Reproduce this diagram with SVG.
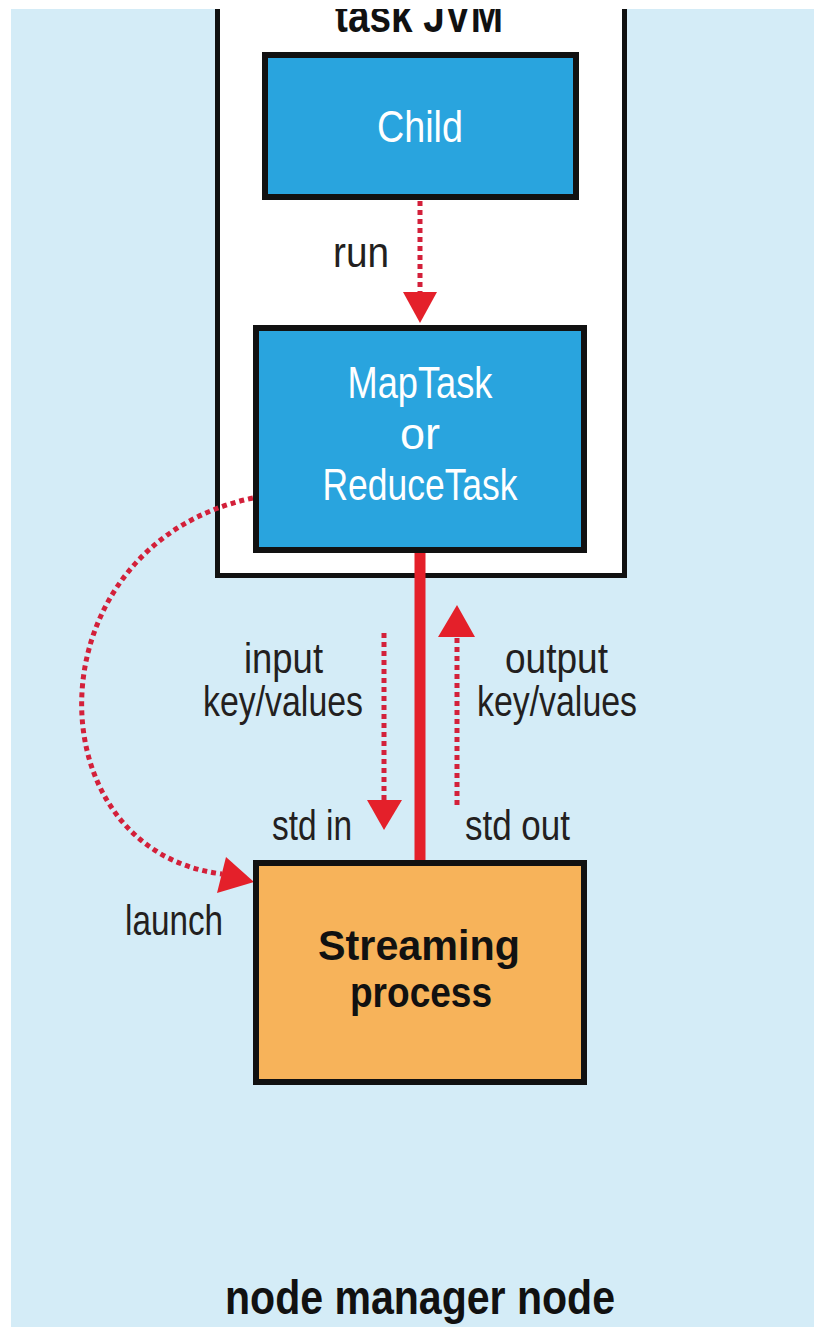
<svg xmlns="http://www.w3.org/2000/svg" width="814" height="1327" viewBox="0 0 814 1327">
<style>
.lbl{font-family:"Liberation Sans",Arial,sans-serif;font-size:42px;fill:#231f20}
.boxtxt{font-family:"Liberation Sans",Arial,sans-serif;font-size:44px;fill:#ffffff;text-anchor:middle}
.bold{font-family:"Liberation Sans",Arial,sans-serif;font-weight:bold;fill:#111111}
.blue{fill:#29a4de;stroke:#111111;stroke-width:6}
.orange{fill:#f7b35a;stroke:#111111;stroke-width:6}
.dot{fill:none;stroke:#d3203a;stroke-width:5;stroke-dasharray:5 4}
.head{fill:#e4202a}
</style>
<rect x="0" y="0" width="814" height="1327" fill="#ffffff"/>
<rect x="11" y="9" width="803" height="1318" fill="#d4ecf7"/>

<g id="taskJVM">
  <rect x="217.5" y="-10" width="407" height="585.5" fill="#ffffff" stroke="#111111" stroke-width="5"/>
  <text class="bold" x="335" y="32" font-size="46" textLength="168" lengthAdjust="spacingAndGlyphs">task JVM</text>
</g>

<g id="nodeManager">
  <text class="bold" x="225" y="1314" font-size="48" textLength="390" lengthAdjust="spacingAndGlyphs">node manager node</text>
</g>

<g id="connectors">
  <line x1="420" y1="553" x2="420" y2="860" stroke="#e4202a" stroke-width="11"/>
  <line class="dot" x1="420" y1="201" x2="420" y2="293"/>
  <polygon class="head" points="403,292 437,292 420,323"/>
  <line class="dot" x1="384" y1="633" x2="384" y2="800"/>
  <polygon class="head" points="367,800 402,800 384,830"/>
  <line class="dot" x1="457" y1="805" x2="457" y2="637"/>
  <polygon class="head" points="438,637 475,637 457,605"/>
  <path class="dot" d="M 253 498 C 30 545, 30 850, 222 874"/>
  <polygon class="head" points="254,882 226,857 217,893"/>
  <text class="lbl" x="333" y="267" textLength="56" lengthAdjust="spacingAndGlyphs">run</text>
  <text class="lbl" x="244" y="673" textLength="79" lengthAdjust="spacingAndGlyphs">input</text>
  <text class="lbl" x="203" y="716" textLength="160" lengthAdjust="spacingAndGlyphs">key/values</text>
  <text class="lbl" x="505" y="673" textLength="103" lengthAdjust="spacingAndGlyphs">output</text>
  <text class="lbl" x="477" y="716" textLength="160" lengthAdjust="spacingAndGlyphs">key/values</text>
  <text class="lbl" x="272" y="840" textLength="80" lengthAdjust="spacingAndGlyphs">std in</text>
  <text class="lbl" x="465" y="840" textLength="105" lengthAdjust="spacingAndGlyphs">std out</text>
  <text class="lbl" x="125" y="935" textLength="98" lengthAdjust="spacingAndGlyphs">launch</text>
</g>

<g id="child">
  <rect class="blue" x="265" y="55" width="311" height="142"/>
  <text class="boxtxt" x="420" y="142" textLength="86" lengthAdjust="spacingAndGlyphs">Child</text>
</g>

<g id="mapTask">
  <rect class="blue" x="256" y="328" width="328" height="222"/>
  <text class="boxtxt" x="420" y="398" textLength="145" lengthAdjust="spacingAndGlyphs">MapTask</text>
  <text class="boxtxt" x="420" y="449" textLength="40" lengthAdjust="spacingAndGlyphs">or</text>
  <text class="boxtxt" x="420" y="500" textLength="195" lengthAdjust="spacingAndGlyphs">ReduceTask</text>
</g>

<g id="streaming">
  <rect class="orange" x="256" y="863" width="328" height="219"/>
  <text class="bold" x="419" y="960" font-size="42" text-anchor="middle" textLength="202" lengthAdjust="spacingAndGlyphs">Streaming</text>
  <text class="bold" x="421" y="1007" font-size="42" text-anchor="middle" textLength="142" lengthAdjust="spacingAndGlyphs">process</text>
</g>

<rect x="0" y="0" width="814" height="9" fill="#ffffff"/>
</svg>
